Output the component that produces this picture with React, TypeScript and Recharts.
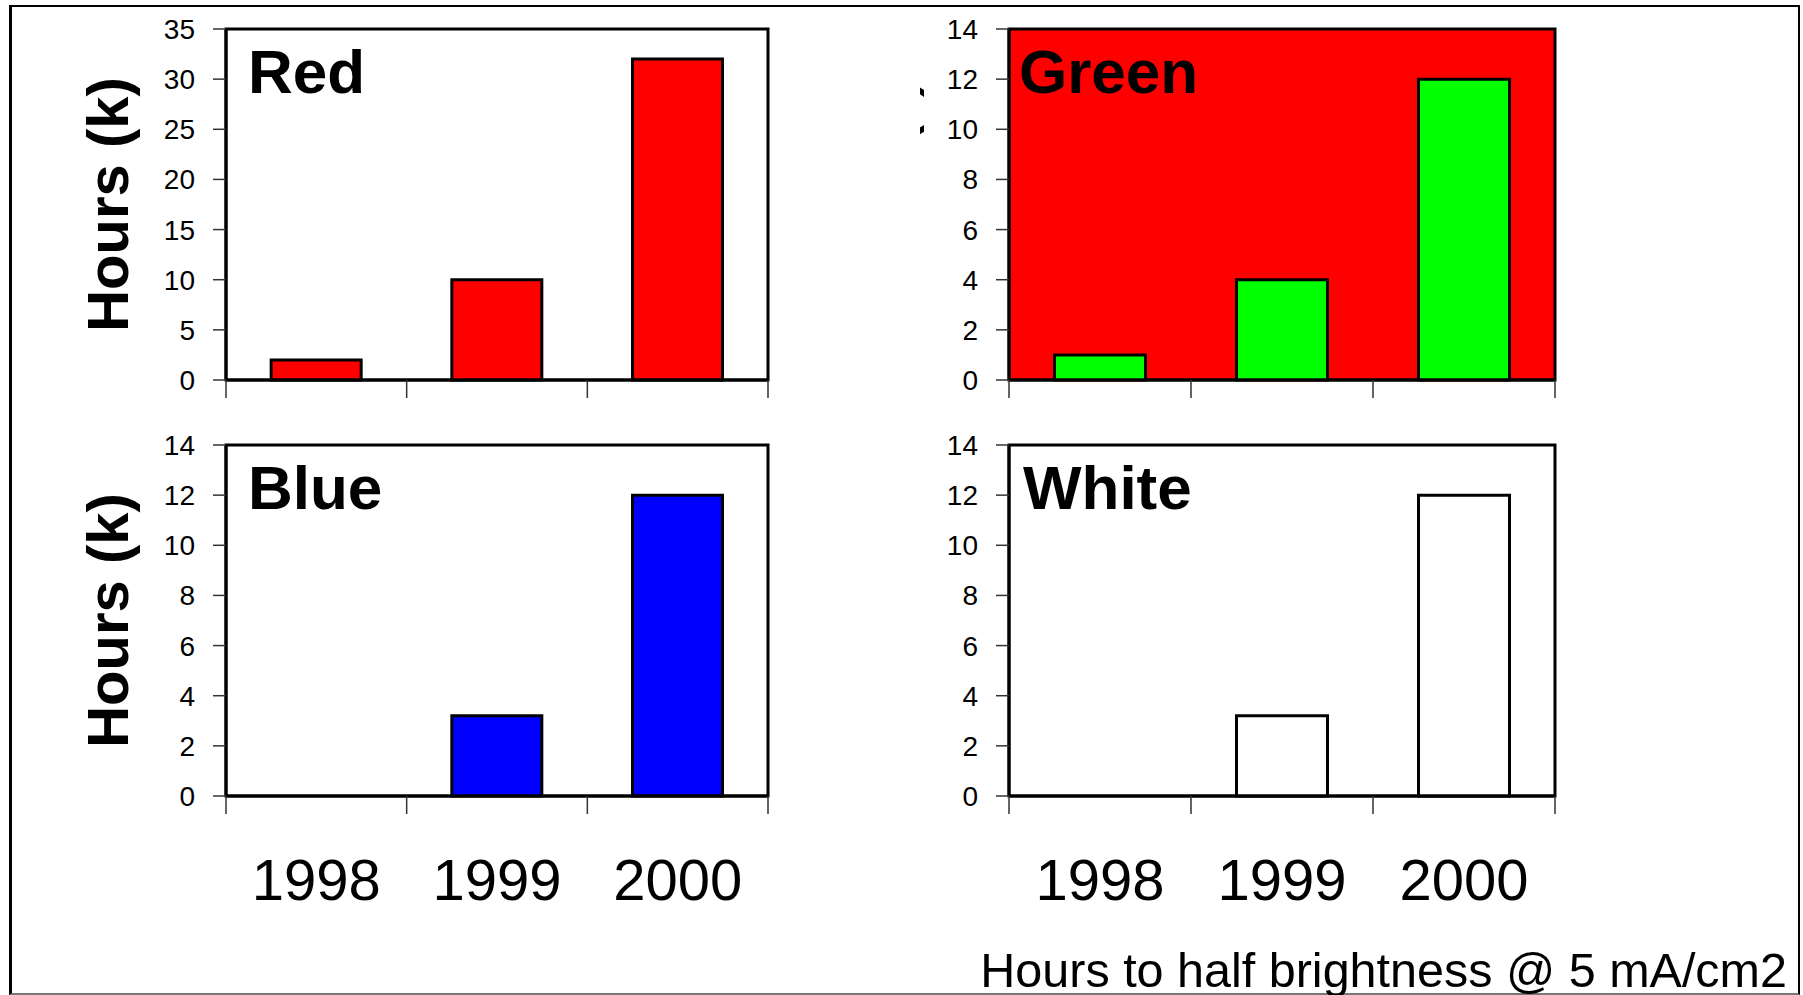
import React from 'react';
import { BarChart, Bar, XAxis, YAxis, CartesianGrid, ReferenceArea } from 'recharts';

const years = ['1998', '1999', '2000'];
const redHours = [2, 10, 32];
const greenHours = [1, 4, 12];
const blueHours = [0, 3.2, 12];
const whiteHours = [0, 3.2, 12];
const redTicks = [0, 5, 10, 15, 20, 25, 30, 35];
const smallTicks = [0, 2, 4, 6, 8, 10, 12, 14];
const yTitle = 'Hours (k)';
const footnote = 'Hours to half brightness @ 5 mA/cm2';

const FONT = "'Liberation Sans', Arial, Helvetica, sans-serif";
const PLOT_H = 351;

type PanelProps = {
  id: string;
  left: number;
  top: number;
  width: number;
  height: number;
  marginTop: number;
  marginRight: number;
  axisWidth: number;
  values: number[];
  color: string;
  ticks: number[];
  title: string;
  titleX: number;
  titleY: number;
  showYears?: boolean;
  showYTitle?: boolean;
  ghostTitle?: boolean;
  plotFill?: string;
  note?: boolean;
};

function Panel(p: PanelProps) {
  const data = years.map((y, i) => ({ year: y, hours: p.values[i] }));
  const xAxisHeight = p.height - p.marginTop - PLOT_H;
  const plotW = p.width - p.axisWidth - p.marginRight;
  const band = plotW / years.length;
  const midY = p.marginTop + PLOT_H / 2;

  const yearTick = (t: any) => {
    const { x, y, payload, index } = t;
    return (
      <g>
        <line x1={x - band / 2} y1={y} x2={x - band / 2} y2={y + 18} stroke='#333' strokeWidth={1.5} />
        {index === years.length - 1 && (
          <line x1={x + band / 2} y1={y} x2={x + band / 2} y2={y + 18} stroke='#333' strokeWidth={1.5} />
        )}
        {p.showYears && (
          <text x={x} y={y + 104} textAnchor='middle' fontSize={58} fontFamily={FONT} fill='#000'>
            {payload.value}
          </text>
        )}
      </g>
    );
  };

  const texts = () => (
    <g>
      <text x={p.titleX} y={p.titleY} fontSize={62} fontWeight='bold' fontFamily={FONT} fill='#000'>
        {p.title}
      </text>
      {p.showYTitle && (
        <text
          x={128}
          y={midY}
          transform={`rotate(-90, 128, ${midY})`}
          textAnchor='middle'
          fontSize={58}
          fontWeight='bold'
          fontFamily={FONT}
          fill='#000'
        >
          {yTitle}
        </text>
      )}
      {p.ghostTitle && (
        <g>
          <defs>
            <clipPath id={`ghost-${p.id}`}>
              <rect x={120} y={0} width={60} height={400} />
            </clipPath>
          </defs>
          <g clipPath={`url(#ghost-${p.id})`}>
            <text
              x={114}
              y={190}
              transform='rotate(-90, 114, 190)'
              textAnchor='middle'
              fontSize={50}
              fontWeight='bold'
              fontFamily={FONT}
              fill='#000'
            >
              {yTitle}
            </text>
          </g>
        </g>
      )}
      {p.note && (
        <text x={987} y={987 - 420} textAnchor='end' fontSize={48.5} fontFamily={FONT} fill='#000'>
          {footnote}
        </text>
      )}
    </g>
  );

  const max = p.ticks[p.ticks.length - 1];

  return (
    <div style={{ position: 'absolute', left: p.left, top: p.top }}>
      <BarChart
        width={p.width}
        height={p.height}
        data={data}
        margin={{ top: p.marginTop, right: p.marginRight, bottom: 0, left: 0 }}
        barCategoryGap='25%'
      >
        <CartesianGrid horizontal={false} vertical={false} fill={p.plotFill ?? '#FFFFFF'} />
        <XAxis
          dataKey='year'
          height={xAxisHeight}
          interval={0}
          tickSize={0}
          tickMargin={0}
          tickLine={false}
          axisLine={{ stroke: '#000', strokeWidth: 3 }}
          tick={yearTick}
        />
        <YAxis
          type='number'
          domain={[0, max]}
          ticks={p.ticks}
          interval={0}
          width={p.axisWidth}
          tickSize={13}
          tickMargin={18}
          axisLine={{ stroke: '#000', strokeWidth: 3 }}
          tickLine={{ stroke: '#333', strokeWidth: 1.5 }}
          tick={{ fill: '#000', fontSize: 28, fontFamily: FONT }}
          label={texts}
        />
        <Bar dataKey='hours' fill={p.color} stroke='#000' strokeWidth={3} isAnimationActive={false} />
        <ReferenceArea y1={0} y2={max} fill='none' stroke='#000' strokeWidth={3} />
      </BarChart>
    </div>
  );
}

export default function App() {
  return (
    <div
      style={{
        position: 'absolute',
        left: 0,
        top: 0,
        width: 1803,
        height: 995,
        background: '#fff',
        overflow: 'hidden',
      }}
    >
      <div
        style={{
          position: 'absolute',
          left: 9,
          top: 5,
          width: 1791,
          height: 990,
          boxSizing: 'border-box',
          borderLeft: '3px solid #000',
          borderTop: '2px solid #000',
          borderRight: '2px solid #000',
          borderBottom: '2px solid #777',
        }}
      />
      <Panel
        id='red'
        left={0}
        top={0}
        width={800}
        height={420}
        marginTop={29}
        marginRight={32}
        axisWidth={226}
        values={redHours}
        color='#FF0000'
        ticks={redTicks}
        title='Red'
        titleX={248}
        titleY={93}
        showYTitle
      />
      <Panel
        id='green'
        left={800}
        top={0}
        width={800}
        height={420}
        marginTop={29}
        marginRight={45}
        axisWidth={209}
        values={greenHours}
        color='#00FF00'
        ticks={smallTicks}
        title='Green'
        titleX={219}
        titleY={93}
        ghostTitle
        plotFill='#FF0000'
      />
      <Panel
        id='blue'
        left={0}
        top={420}
        width={800}
        height={575}
        marginTop={25}
        marginRight={32}
        axisWidth={226}
        values={blueHours}
        color='#0000FF'
        ticks={smallTicks}
        title='Blue'
        titleX={248}
        titleY={89}
        showYears
        showYTitle
      />
      <Panel
        id='white'
        left={800}
        top={420}
        width={1003}
        height={575}
        marginTop={25}
        marginRight={248}
        axisWidth={209}
        values={whiteHours}
        color='#FFFFFF'
        ticks={smallTicks}
        title='White'
        titleX={223}
        titleY={89}
        showYears
        note
      />
    </div>
  );
}
